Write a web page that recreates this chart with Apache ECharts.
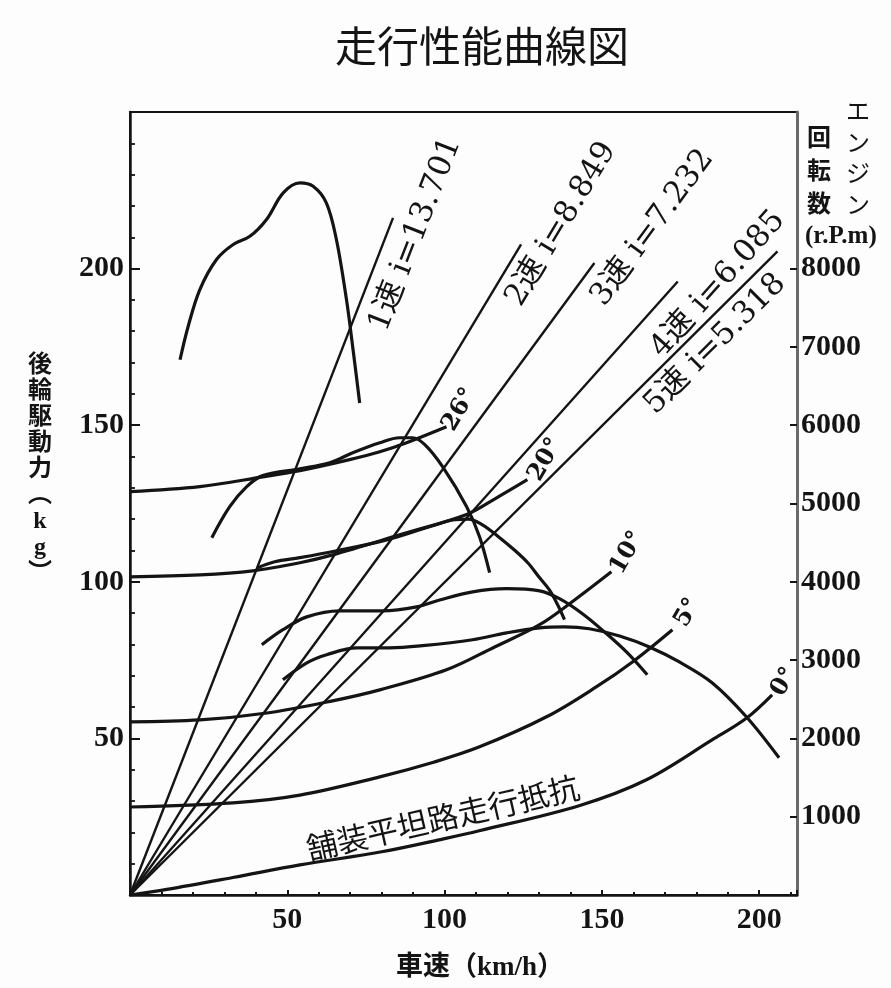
<!DOCTYPE html>
<html>
<head>
<meta charset="utf-8">
<script src="https://cdn.jsdelivr.net/npm/echarts@6/dist/echarts.min.js"></script>
<style>
html,body{margin:0;padding:0;background:#fdfdfd;}
#c{width:891px;height:988px;}
</style>
</head>
<body>
<div id="c"></div>
<script>
// ---------- tick labels ----------
const speedTicks = [50, 100, 150, 200];          // 車速 km/h
const forceTicks = [50, 100, 150, 200];          // 後輪駆動力 kg
const rpmTicks = [1000, 2000, 3000, 4000, 5000, 6000, 7000, 8000];

// ---------- drive force curves per gear [km/h, kg] ----------
const gear1Force = [[15.9,170.9],[18.5,181.6],[22.2,193.3],[27.5,202.9],[32.8,207.7],[38.1,210.3],[43.4,215.7],[48.7,224.2],[54.0,227.4],[58.2,226.3],[62.4,221.0],[65.6,209.3],[68.8,190.1],[70.9,174.1],[73.0,157.1]];
const gear2Force = [[26.0,114.1],[31.7,124.0],[37.1,130.4],[42.2,133.9],[54.0,136.1],[63.5,138.0],[70.8,141.2],[79.4,144.4],[85.7,146.0],[89.8,146.0],[93.7,143.8],[99.4,136.7],[107.0,124.0],[111.1,114.4],[114.3,102.9]];
const gear3Force = [[40.6,104.5],[46.0,106.4],[54.0,107.7],[65.7,109.9],[81.6,113.4],[95.2,117.6],[103.2,119.8],[107.5,120.0],[112.0,118.2],[117.0,114.5],[122.0,110.3],[126.5,106.0],[130.0,101.5],[133.3,97.4],[136.0,92.5],[138.1,87.9]];
const gear4Force = [[41.9,79.9],[48.6,84.7],[56.2,88.8],[66.7,90.7],[80.3,90.7],[91.1,92.0],[98.4,94.2],[108.9,96.8],[119.7,97.8],[130.2,97.1],[136.5,94.6],[143.8,89.8],[150.8,84.0],[158.1,77.3],[164.4,70.3]];
const gear5Force = [[48.6,68.7],[56.2,74.1],[62.5,76.7],[72.1,78.9],[82.5,78.9],[93.0,79.6],[108.9,81.5],[119.7,83.7],[130.2,85.3],[138.1,85.6],[146.0,85.0],[155.6,82.7],[165.1,79.2],[174.6,74.4],[185.1,67.7],[195.9,56.9],[206.3,43.8]];

// ---------- running resistance on grades [km/h, kg] ----------
const grade26 = [[0,128.8],[22.2,130.4],[42.2,133.5],[54.0,135.5],[69.8,139.0],[79.4,141.5],[87.9,144.4],[100.6,149.5]];
const grade20 = [[0,101.6],[22.2,102.2],[39.0,103.5],[54.0,106.1],[64.4,108.6],[85.7,115.0],[107.0,121.5],[116.0,126.5],[126.3,132.6]];
const grade10 = [[0,55.3],[22.2,55.9],[43.5,58.1],[64.4,62.0],[79.4,65.5],[100.6,71.9],[115.9,79.2],[130.2,86.3],[141.3,94.2],[153.0,103.2]];
const grade5  = [[0,28.1],[32.7,29.4],[54.0,31.9],[79.4,37.7],[96.2,42.3],[111.1,47.3],[132.4,56.9],[148.3,66.5],[159.7,74.4],[172.4,84.7]];
const grade0  = [[0,0],[11.7,1.8],[32.7,5.6],[54.0,9.6],[80.0,13.8],[100.0,18.0],[111.0,20.5],[143.0,28.6],[164.0,36.7],[185.0,49.5],[196.0,56.5],[204.1,63.9]];

// ---------- engine speed lines per gear (kg scale = rpm / 40) ----------
const ratio1 = [[0,0],[83.6,216.2]];
const ratio2 = [[0,0],[124.3,207.7]];
const ratio3 = [[0,0],[147.6,201.8]];
const ratio4 = [[0,0],[174.1,195.9]];
const ratio5 = [[0,0],[205.8,205.5]];

// ---------- texts ----------
const gearLabels = ['1速 i=13.701', '2速 i=8.849', '3速 i=7.232', '4速 i=6.085', '5速 i=5.318'];
const gradeLabels = ['26°', '20°', '10°', '5°', '0°'];
const roadLabel = '舗装平坦路走行抵抗';
const titleText = '走行性能曲線図';
const xName = '車速（km/h）';

// ---------- layout (label placement, not data) ----------
const gearLabelAlong = [0.99, 1.05, 1.08, 1.03, 0.88];
const gearLabelSide = [27, 24, 26, 32, 22];
const gradeLabelShift = [[13,-17],[18,-20],[16,-19],[15,-17],[12,-13]];

const INK = '#141414';
const SERIF = "'Liberation Serif','Noto Sans CJK JP',serif";

const chart = echarts.init(document.getElementById('c'), null, {renderer: 'canvas'});

const curveSets = [gear1Force, gear2Force, gear3Force, gear4Force, gear5Force, grade26, grade20, grade10, grade5, grade0];
const ratioSets = [ratio1, ratio2, ratio3, ratio4, ratio5];
const gradeSets = [grade26, grade20, grade10, grade5, grade0];

const series = [];
curveSets.forEach(d => series.push({
  type: 'line', data: d, smooth: 0.35, symbol: 'none', silent: true, z: 3,
  lineStyle: {color: INK, width: 3.2}
}));
ratioSets.forEach(d => series.push({
  type: 'line', data: d, symbol: 'none', silent: true, z: 2,
  lineStyle: {color: INK, width: 2.4}
}));

const labelStyle = {fontFamily: SERIF, fontWeight: 'bold', fontSize: 30, color: INK};

chart.setOption({
  backgroundColor: '#fdfdfd',
  animation: false,
  grid: {left: 130, right: 94, top: 112, bottom: 93, show: true, borderColor: INK, borderWidth: 2},
  xAxis: {
    type: 'value', min: 0, max: 212, interval: 50,
    axisLine: {onZero: false, lineStyle: {color: INK, width: 2.5}},
    axisTick: {inside: true, length: 5, lineStyle: {color: INK, width: 2}},
    minorTick: {show: true, splitNumber: 5, length: 3, lineStyle: {color: INK, width: 2}},
    splitLine: {show: false},
    axisLabel: Object.assign({customValues: speedTicks, margin: 10,
      formatter: v => speedTicks.includes(v) ? String(v) : ''}, labelStyle)
  },
  yAxis: [{
    type: 'value', min: 0, max: 250, interval: 50, position: 'left',
    axisLine: {show: true, onZero: false, lineStyle: {color: INK, width: 2.5}},
    axisTick: {show: true, inside: true, length: 10, lineStyle: {color: INK, width: 2}},
    minorTick: {show: true, splitNumber: 5, length: 5, lineStyle: {color: INK, width: 1.8}},
    splitLine: {show: false},
    axisLabel: Object.assign({customValues: forceTicks, margin: 6,
      formatter: v => forceTicks.includes(v) ? String(v) : ''}, labelStyle)
  }, {
    type: 'value', min: 0, max: 10000, interval: 1000, position: 'right',
    axisLine: {show: true, onZero: false, lineStyle: {color: '#6a6a6a', width: 3}},
    axisTick: {show: true, inside: true, length: 7, customValues: rpmTicks, lineStyle: {color: INK, width: 2}},
    splitLine: {show: false},
    axisLabel: Object.assign({customValues: rpmTicks, margin: 4,
      formatter: v => rpmTicks.includes(v) ? String(v) : ''}, labelStyle)
  }],
  series: series
});

// ---------- texts placed from data coordinates ----------
const toPx = p => chart.convertToPixel({xAxisIndex: 0, yAxisIndex: 0}, p);
const g = [];

ratioSets.forEach((line, i) => {
  const O = toPx(line[0]), E = toPx(line[1]);
  const dx = E[0] - O[0], dy = E[1] - O[1], len = Math.hypot(dx, dy);
  const nx = -dy / len, ny = dx / len;
  const t = gearLabelAlong[i], s = gearLabelSide[i];
  g.push({
    type: 'text', x: O[0] + dx * t + nx * s, y: O[1] + dy * t + ny * s,
    rotation: Math.atan2(-dy, dx), z: 10,
    style: {text: gearLabels[i], fontFamily: "'DejaVu Serif','Noto Sans CJK JP',serif", fontSize: 31,
      fill: INK, align: 'center', verticalAlign: 'middle'}
  });
});

gradeSets.forEach((d, i) => {
  const P = toPx(d[d.length - 1]);
  g.push({
    type: 'text', x: P[0] + gradeLabelShift[i][0], y: P[1] + gradeLabelShift[i][1],
    rotation: 60 * Math.PI / 180, z: 10,
    style: {text: gradeLabels[i], fontFamily: "'DejaVu Serif',serif", fontSize: 24, fontWeight: 'bold',
      fill: INK, align: 'center', verticalAlign: 'middle'}
  });
});

const roadAnchor = toPx([99.4, 18]);
g.push({
  type: 'text', x: roadAnchor[0], y: roadAnchor[1] - 21, rotation: 13 * Math.PI / 180, z: 10,
  style: {text: roadLabel, fontFamily: "'Noto Sans CJK JP'", fontSize: 31,
    fill: INK, align: 'center', verticalAlign: 'middle'}
});

// title and axis names
g.push({type: 'text', x: 482, y: 46, z: 10,
  style: {text: titleText, fontFamily: "'Noto Sans CJK JP'", fontSize: 42,
    fill: INK, align: 'center', verticalAlign: 'middle'}});
g.push({type: 'text', x: 480, y: 968, z: 10,
  style: {text: xName, fontFamily: SERIF, fontSize: 27, fontWeight: 'bold',
    fill: INK, align: 'center', verticalAlign: 'middle'}});
g.push({type: 'text', x: 40, y: 470, z: 10,
  style: {text: '後\n輪\n駆\n動\n力\n︵\nk\ng\n︶', fontFamily: SERIF, fontSize: 24, fontWeight: 'bold',
    lineHeight: 26, fill: INK, align: 'center', verticalAlign: 'middle'}});
g.push({type: 'text', x: 858, y: 157, z: 10,
  style: {text: 'エ\nン\nジ\nン', fontFamily: "'Noto Sans CJK JP'", fontSize: 24,
    lineHeight: 31, fill: INK, align: 'center', verticalAlign: 'middle'}});
g.push({type: 'text', x: 819, y: 170, z: 10,
  style: {text: '回\n転\n数', fontFamily: "'Noto Sans CJK JP'", fontSize: 24, fontWeight: 'bold',
    lineHeight: 33, fill: INK, align: 'center', verticalAlign: 'middle'}});
g.push({type: 'text', x: 805, y: 237, z: 10,
  style: {text: '(r.P.m)', fontFamily: SERIF, fontSize: 25, fontWeight: 'bold',
    fill: INK, align: 'left', verticalAlign: 'middle'}});

chart.setOption({graphic: g});
</script>
</body>
</html>
